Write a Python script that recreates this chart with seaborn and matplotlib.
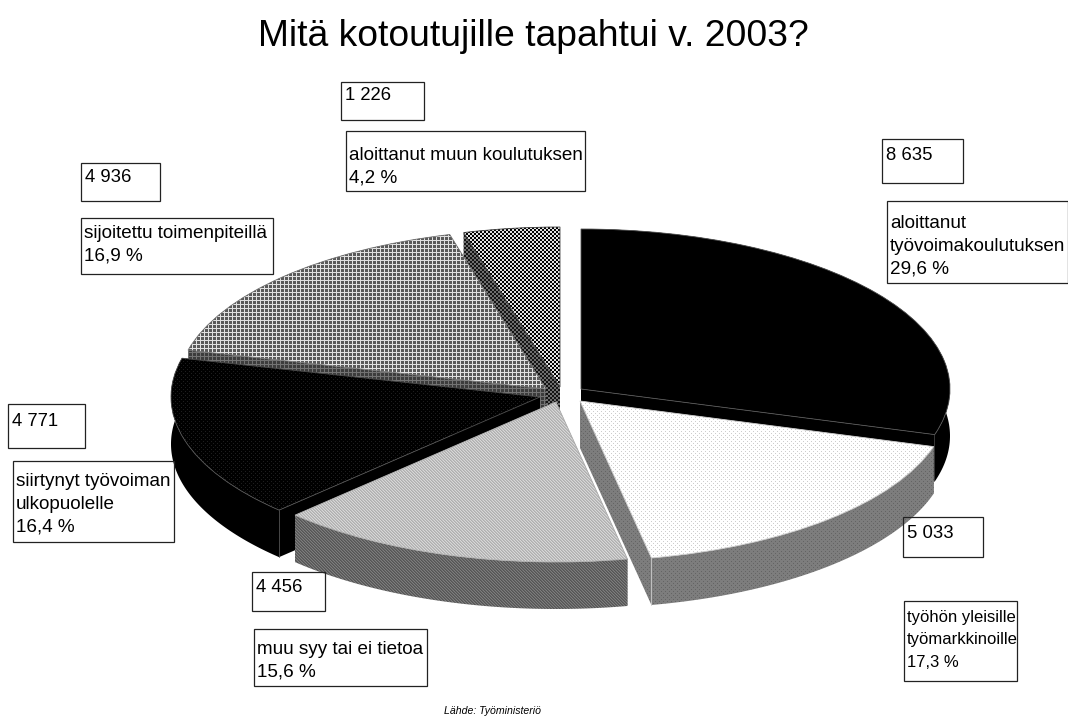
import numpy as np
import seaborn as sns
import matplotlib
matplotlib.use('Agg')
import matplotlib.pyplot as plt
from matplotlib.patches import Polygon, Rectangle

W, H = 1068, 717

title = 'Mitä kotoutujille tapahtui v. 2003?'
source = 'Lähde: Työministeriö'
shares = [29.6, 17.3, 15.6, 16.4, 16.9, 4.2]
counts = ['8 635', '5 033', '4 456', '4 771', '4 936', '1 226']
names = ['aloittanut\ntyövoimakoulutuksen', 'työhön yleisille\ntyömarkkinoille',
         'muu syy tai ei tietoa', 'siirtynyt työvoiman\nulkopuolelle',
         'sijoitettu toimenpiteillä', 'aloittanut muun koulutuksen']
pct_labels = ['29,6 %', '17,3 %', '15,6 %', '16,4 %', '16,9 %', '4,2 %']

# layout, in pixels of the picture
CX, CY, RX, RY, DEPTH = 560, 396, 369, 160, 47
slice_shift = [(21, -7), (20, 5), (-4, 6), (-20, 1), (-14, -7), (0, -9)]
draw_order = [5, 4, 0, 1, 3, 2]
count_boxes = [(882, 139, 963, 183), (903, 517, 983, 557), (252, 572, 325, 611),
               (8, 404, 85, 448), (81, 163, 160, 201), (341, 82, 424, 120)]
name_boxes = [(887, 201, 1068, 283), (904, 601, 1017, 681), (254, 629, 427, 686),
              (13, 461, 174, 542), (81, 218, 273, 274), (346, 131, 585, 191)]
count_text_y = [156, 534, 588, 422, 177, 96]
name_text_y = [224, 619, 650, 482, 234, 156]
name_sizes = [13.6, 12, 13.6, 13.6, 13.6, 13.6]

# dither tiles for the top and the side of each slice
top_tiles = [
    [[0]],
    [[255, 255, 255, 255], [255, 205, 255, 255], [255, 255, 255, 255], [255, 255, 255, 205]],
    [[215, 175, 190], [175, 190, 215], [190, 215, 175]],
    [[0, 0, 0, 0], [0, 30, 0, 0], [0, 0, 0, 0], [0, 0, 0, 30]],
    [[225, 225, 225, 225], [225, 90, 90, 90], [225, 90, 90, 90], [225, 90, 90, 90]],
    [[0, 0, 225, 225], [0, 0, 225, 225], [225, 225, 0, 0], [225, 225, 0, 0]],
]
side_tiles = [
    [[0]],
    [[125, 125, 125, 125], [125, 100, 125, 125], [125, 125, 125, 125], [125, 125, 125, 100]],
    [[125, 85, 100], [85, 100, 125], [100, 125, 85]],
    [[0]],
    [[115, 115, 115, 115], [115, 60, 60, 60], [115, 60, 60, 60], [115, 60, 60, 60]],
    [[20, 20, 110, 110], [20, 20, 110, 110], [110, 110, 20, 20], [110, 110, 20, 20]],
]
edge_colors = ['#555555', '#c8c8c8', '#b0b0b0', '#505050', '#777777', '#444444']

sns.set_theme(style='white')
plt.rcParams['font.family'] = ['Liberation Sans', 'DejaVu Sans']

fig = plt.figure(figsize=(W / 100, H / 100), dpi=100, facecolor='white')
ax = fig.add_axes([0, 0, 1, 1])
wedges, _ = ax.pie(shares, startangle=90, counterclock=False, radius=1)
lims = (-CX / RX, (W - CX) / RX, -(H - CY) / RY, CY / RY)
depth = DEPTH / RY


def paint(tile, clip, z):
    tile = np.array(tile)
    ny = H // tile.shape[0] + 1
    nx = W // tile.shape[1] + 1
    img = np.tile(tile, (ny, nx))[:H, :W]
    im = ax.imshow(img, cmap='gray', vmin=0, vmax=255, extent=lims, origin='lower',
                   interpolation='nearest', aspect='auto', zorder=z)
    im.set_clip_path(clip)


for rank, i in enumerate(draw_order):
    w = wedges[i]
    c = (w.center[0] + slice_shift[i][0] / RX, w.center[1] - slice_shift[i][1] / RY)
    w.set_center(c)
    w.set_facecolor('none')
    w.set_edgecolor(edge_colors[i])
    w.set_linewidth(0.6)
    z = 10 + rank * 10
    w.set_zorder(z + 5)

    t = np.radians(np.linspace(w.theta1, w.theta2, 120))
    arc = np.column_stack([c[0] + np.cos(t), c[1] + np.sin(t)])
    down = np.array([0, -depth])
    apex = np.array(c)
    faces = [np.vstack([arc, (arc + down)[::-1]]),
             np.array([apex, arc[0], arc[0] + down, apex + down]),
             np.array([apex, arc[-1], arc[-1] + down, apex + down])]
    for k, pts in enumerate(faces):
        face = Polygon(pts, closed=True, fill=False, edgecolor='none', zorder=z + 2)
        ax.add_patch(face)
        paint(side_tiles[i], face, z + 1 + k * 0.1)
    # the corner where two side faces meet shows as a thin line
    if i in (1, 3):
        corner = arc[-1] if i == 3 else arc[0]
        ax.plot([corner[0], corner[0]], [corner[1], corner[1] - depth], color=edge_colors[i],
                linewidth=0.6, zorder=z + 3)
    paint(top_tiles[i], w, z + 4)

ax.set_xlim(lims[0], lims[1])
ax.set_ylim(lims[2], lims[3])
ax.set_aspect('auto')
ax.axis('off')

# labels sit in picture pixels on a second axes
lab = fig.add_axes([0, 0, 1, 1], facecolor='none')
lab.set_xlim(0, W)
lab.set_ylim(H, 0)
lab.axis('off')

lab.text(533, 36, title, fontsize=26.8, ha='center', va='center', color='black')
lab.text(493, 711, source, fontsize=7.6, style='italic', ha='center', va='center', color='black')

for i in range(len(shares)):
    x0, y0, x1, y1 = count_boxes[i]
    lab.add_patch(Rectangle((x0, y0), x1 - x0, y1 - y0, fill=False, edgecolor='#222222', linewidth=0.9))
    lab.text(x0 + 4, count_text_y[i], counts[i], fontsize=13.3, va='center', ha='left', color='black')
    x0, y0, x1, y1 = name_boxes[i]
    lab.add_patch(Rectangle((x0, y0), x1 - x0, y1 - y0, fill=False, edgecolor='#222222', linewidth=0.9,
                            clip_on=False))
    lab.text(x0 + 3, name_text_y[i] - 9, names[i] + '\n' + pct_labels[i], fontsize=name_sizes[i], va='top',
             ha='left', linespacing=1.43 * 13.6 / name_sizes[i], color='black')

fig.savefig('out.png', dpi=100, facecolor='white')
